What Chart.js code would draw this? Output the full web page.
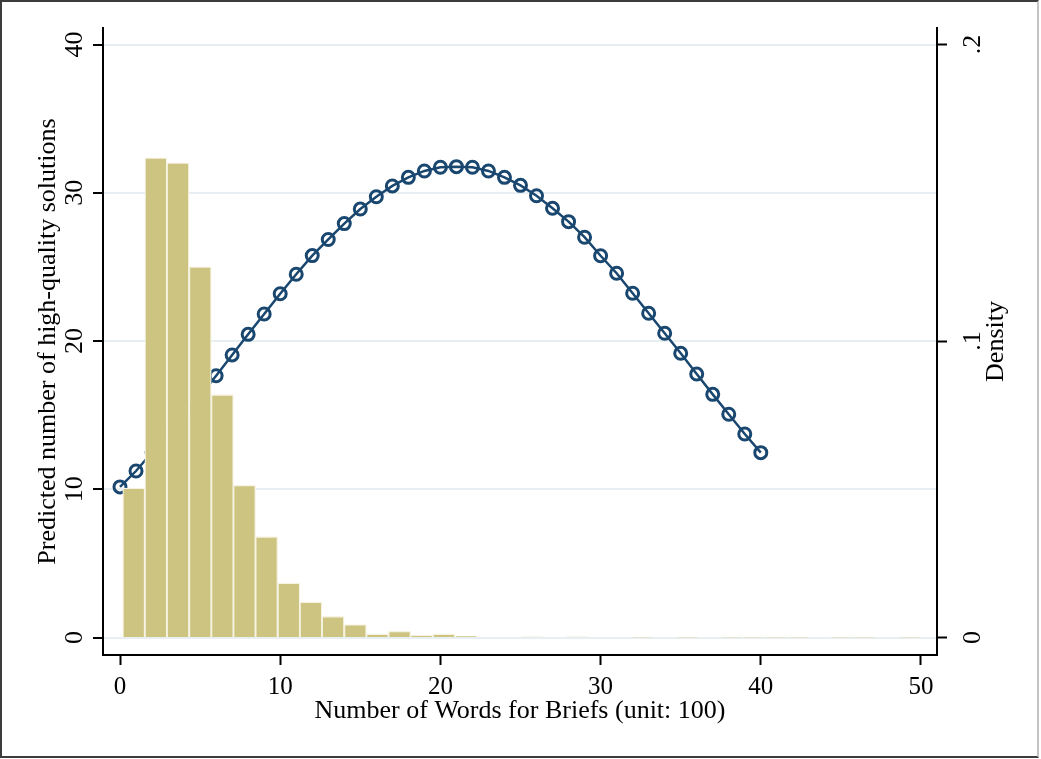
<!DOCTYPE html>
<html>
<head>
<meta charset="utf-8">
<script src="https://cdn.jsdelivr.net/npm/chart.js@4.4.1/dist/chart.umd.min.js"></script>
<style>
  html, body { margin: 0; padding: 0; background: #fff; }
  #wrap { position: relative; width: 1041px; height: 759px; }
  #frame {
    position: absolute; left: 0; top: 0; width: 1039px; height: 758px;
    box-sizing: border-box; border: 2px solid #3c3c3c; border-right-color: #c4c4c4;
    background: #fff;
  }
  canvas { position: absolute; left: 0; top: 0; }
</style>
</head>
<body>
<div id="wrap">
  <div id="frame"></div>
  <canvas id="chart" width="1041" height="759"></canvas>
</div>
<script>
/* ===================== DATA ===================== */
const wordTicks = [0, 10, 20, 30, 40, 50];
const countTicks = [0, 10, 20, 30, 40];
const densityTicks = [0, 0.1, 0.2];
const densityTickLabels = ["0", ".1", ".2"];

const xTitle = "Number of Words for Briefs (unit: 100)";
const leftTitle = "Predicted number of high-quality solutions";
const rightTitle = "Density";

// predicted line, x = words (hundreds)
const predWords = [
  0, 1, 2, 3, 4, 5, 6, 7, 8, 9, 10, 11, 12, 13, 14, 15, 16, 17, 18, 19, 20,
  21, 22, 23, 24, 25, 26, 27, 28, 29, 30, 31, 32, 33, 34, 35, 36, 37, 38, 39, 40
];
const predValues = [
  10.16, 11.23, 12.5, 13.8, 15.05, 16.3, 17.66, 19.06, 20.45, 21.82, 23.19,
  24.5, 25.76, 26.85, 27.92, 28.9, 29.73, 30.46, 31.04, 31.47, 31.72,
  31.76, 31.72, 31.47, 31.04, 30.5, 29.8, 28.95, 28.05, 27.0, 25.75,
  24.57, 23.22, 21.87, 20.52, 19.17, 17.77, 16.4, 15.06, 13.73, 12.47
];

// histogram: bin midpoints and density
const binCenters = [
  0.86, 2.24, 3.62, 5.01, 6.39, 7.77, 9.15, 10.54, 11.92, 13.30, 14.69, 16.07,
  17.45, 18.83, 20.22, 21.60, 22.98, 24.36, 25.75, 27.13, 28.51, 29.90, 31.28, 32.66,
  34.04, 35.43, 36.81, 38.19, 39.57, 40.96, 42.34, 43.72, 45.11, 46.49, 47.87, 49.25
];
const binDensity = [
  0.0504, 0.1618, 0.1601, 0.1250, 0.0819, 0.0513, 0.0340, 0.0184, 0.0120, 0.0071, 0.0044, 0.0012,
  0.0021, 0.0007, 0.0012, 0.0005, 0, 0, 0.0002, 0, 0.0002, 0, 0, 0.0001,
  0, 0.0001, 0, 0.0001, 0.0001, 0.0001, 0.0001, 0, 0.0001, 0.0001, 0, 0.0001
];

/* ===================== HELPERS ===================== */
const FONT = '"Liberation Serif", "Times New Roman", serif';

function fixedTicks(values) {
  return scale => { scale.ticks = values.map(v => ({ value: v })); };
}

function vText(ctx, s, x, y) {
  ctx.save();
  ctx.translate(x, y);
  ctx.rotate(-Math.PI / 2);
  ctx.fillText(s, 0, 0);
  ctx.restore();
}

// rotated y labels + titles, like stata draws them
const axisText = {
  id: "axisText",
  afterDraw(chart) {
    const { ctx, chartArea, scales } = chart;
    ctx.save();
    ctx.fillStyle = "#000";
    ctx.textAlign = "center";
    ctx.textBaseline = "alphabetic";
    ctx.font = "26px " + FONT;
    countTicks.forEach(v => vText(ctx, String(v), 82, scales.y.getPixelForValue(v)));
    densityTicks.forEach((v, i) =>
      vText(ctx, densityTickLabels[i], 980, scales.y1.getPixelForValue(v)));
    ctx.font = "26px " + FONT;
    const mid = (chartArea.top + chartArea.bottom) / 2;
    vText(ctx, leftTitle, 55, mid);
    vText(ctx, rightTitle, 1003, mid);
    ctx.restore();
  }
};

/* ===================== CHART ===================== */
new Chart(document.getElementById("chart"), {
  type: "bar",
  data: {
    datasets: [
      {
        type: "bar",
        label: "Density",
        data: binCenters.map((x, i) => ({ x, y: binDensity[i] })),
        yAxisID: "y1",
        backgroundColor: "#cdc482",
        borderColor: "#f6f3e2",
        borderWidth: 1.3,
        categoryPercentage: 1,
        barPercentage: 1,
        order: 0
      },
      {
        type: "line",
        label: "Predicted",
        data: predWords.map((x, i) => ({ x, y: predValues[i] })),
        yAxisID: "y",
        borderColor: "#1a476f",
        borderWidth: 2.5,
        pointStyle: "circle",
        pointRadius: 6,
        pointBorderWidth: 3,
        pointBorderColor: "#1a476f",
        pointBackgroundColor: "rgba(0,0,0,0)",
        tension: 0,
        order: 1
      }
    ]
  },
  options: {
    responsive: false,
    animation: false,
    devicePixelRatio: 1,
    layout: { padding: { top: 28, left: 0, right: 0, bottom: 0 } },
    plugins: {
      legend: { display: false },
      tooltip: { enabled: false }
    },
    scales: {
      x: {
        type: "linear",
        position: "bottom",
        min: -1.0612,
        max: 50.999,
        offset: false,
        afterBuildTicks: fixedTicks(wordTicks),
        afterFit: s => { s.height = 104; },
        grid: {
          offset: false,
          drawOnChartArea: false,
          drawTicks: true,
          tickLength: 10,
          tickColor: "#000",
          tickWidth: 2
        },
        border: { display: true, color: "#000", width: 2 },
        ticks: {
          color: "#000",
          font: { family: FONT, size: 25 },
          padding: 7,
          maxRotation: 0
        },
        title: {
          display: true,
          text: xTitle,
          color: "#000",
          font: { family: FONT, size: 26 },
          padding: { top: 0, bottom: 32 }
        }
      },
      y: {
        type: "linear",
        position: "left",
        min: -1.18,
        max: 41.113,
        afterBuildTicks: fixedTicks(countTicks),
        afterFit: s => { s.width = 103; },
        grid: {
          color: "#e8eff2",
          lineWidth: 2,
          tickLength: 10,
          tickColor: "#000",
          tickWidth: 2
        },
        border: { display: true, color: "#000", width: 2 },
        ticks: { display: false }
      },
      y1: {
        type: "linear",
        position: "right",
        min: -0.0059,
        max: 0.205565,
        afterBuildTicks: fixedTicks(densityTicks),
        afterFit: s => { s.width = 104; },
        grid: {
          drawOnChartArea: false,
          tickLength: 10,
          tickColor: "#000",
          tickWidth: 2
        },
        border: { display: true, color: "#000", width: 2 },
        ticks: { display: false }
      }
    }
  },
  plugins: [axisText]
});
</script>
</body>
</html>
